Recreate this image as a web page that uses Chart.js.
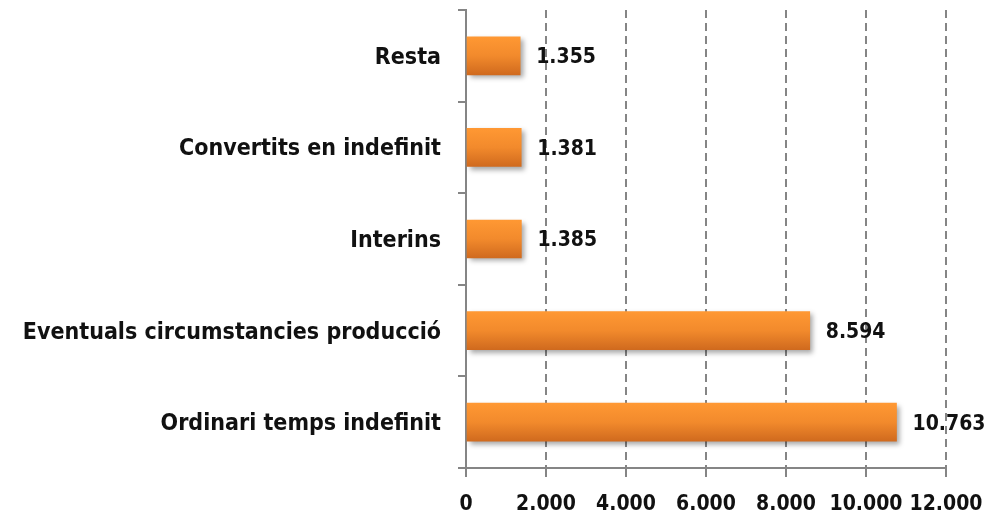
<!DOCTYPE html>
<html>
<head>
<meta charset="utf-8">
<script src="https://cdn.jsdelivr.net/npm/chart.js@4"></script>
<style>
  html, body { margin: 0; padding: 0; background: #fff; }
  #wrap { width: 986px; height: 518px; }
</style>
</head>
<body>
<div id="wrap"><canvas id="chart" width="986" height="518"></canvas></div>
<script>
// categories from top to bottom
const categories = [
    "Resta",
    "Convertits en indefinit",
    "Interins",
    "Eventuals circumstancies producció",
    "Ordinari temps indefinit"
];
const values = [1355, 1381, 1385, 8594, 10763];
const xTicks = [0, 2000, 4000, 6000, 8000, 10000, 12000];

const FONT = "'DejaVu Sans Condensed', 'DejaVu Sans', sans-serif";
const BAR_H = 38;
const AXIS = "#858585";

// format 10763 -> 10.763
function fmt(v) {
    return String(Math.round(v)).replace(/\B(?=(\d{3})+(?!\d))/g, ".");
}

// vertical orange gradient per bar
function barFill(ctx) {
    const chart = ctx.chart;
    const y = chart.scales && chart.scales.y;
    if (!y || ctx.dataIndex === undefined) return "#f28a2a";
    const yc = y.getPixelForValue(ctx.dataIndex);
    if (!isFinite(yc)) return "#f28a2a";
    const g = chart.ctx.createLinearGradient(0, yc - BAR_H / 2, 0, yc + BAR_H / 2);
    g.addColorStop(0, "#ff9833");
    g.addColorStop(0.5, "#f28a2c");
    g.addColorStop(1, "#d06a1e");
    return g;
}

// soft shadow under the bars
const barShadow = {
    id: "barShadow",
    beforeDatasetsDraw(chart) {
        const c = chart.ctx;
        c.save();
        c.shadowColor = "rgba(0,0,0,0.35)";
        c.shadowBlur = 5;
        c.shadowOffsetX = 3;
        c.shadowOffsetY = 3;
    },
    afterDatasetsDraw(chart) {
        chart.ctx.restore();
    }
};

// value labels to the right of each bar
const valueLabels = {
    id: "valueLabels",
    afterDatasetsDraw(chart) {
        const c = chart.ctx;
        const meta = chart.getDatasetMeta(0);
        c.save();
        c.font = "bold 21px " + FONT;
        c.fillStyle = "#111";
        c.textAlign = "left";
        c.textBaseline = "middle";
        meta.data.forEach((bar, i) => {
            c.fillText(fmt(values[i]), bar.x + 16, bar.y + 2);
        });
        c.restore();
    }
};

new Chart(document.getElementById("chart"), {
    type: "bar",
    data: {
        labels: categories,
        datasets: [{
            data: values,
            backgroundColor: barFill,
            borderWidth: 0,
            barThickness: BAR_H
        }]
    },
    options: {
        indexAxis: "y",
        responsive: false,
        animation: false,
        layout: {
            autoPadding: false,
            padding: { top: 10, right: 40, left: 0, bottom: 0 }
        },
        plugins: {
            legend: { display: false },
            tooltip: { enabled: false }
        },
        scales: {
            x: {
                min: 0,
                max: 12000,
                afterBuildTicks(scale) {
                    scale.ticks = xTicks.map(v => ({ value: v }));
                },
                afterFit(scale) {
                    scale.height = 50;
                    scale.paddingLeft = 0;
                    scale.paddingRight = 0;
                },
                grid: {
                    color: AXIS,
                    lineWidth: 2,
                    tickLength: 9,
                    tickBorderDash: [],
                    tickColor: AXIS
                },
                border: { color: AXIS, width: 2, dash: [8, 5] },
                ticks: {
                    autoSkip: false,
                    padding: 15,
                    color: "#111",
                    font: { family: FONT, size: 21, weight: "bold" },
                    maxRotation: 0,
                    callback: v => fmt(v)
                }
            },
            y: {
                offset: true,
                afterFit(scale) {
                    scale.width = 466;
                    scale.paddingTop = 0;
                    scale.paddingBottom = 0;
                },
                grid: {
                    offset: true,
                    drawOnChartArea: false,
                    color: AXIS,
                    lineWidth: 2,
                    tickLength: 8
                },
                border: { color: AXIS, width: 2 },
                ticks: {
                    padding: 17,
                    labelOffset: 2,
                    color: "#111",
                    font: { family: FONT, size: 23, weight: "bold" }
                }
            }
        }
    },
    plugins: [barShadow, valueLabels]
});
</script>
</body>
</html>
